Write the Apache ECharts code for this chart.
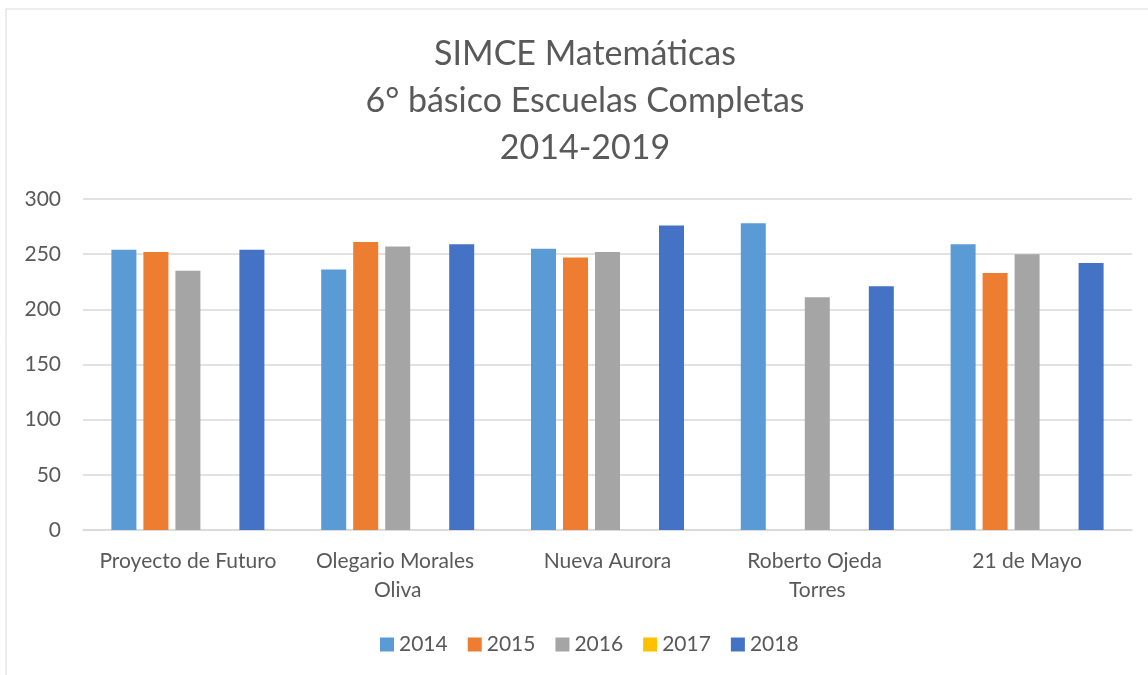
<!DOCTYPE html>
<html>
<head>
<meta charset="utf-8">
<script src="https://cdn.jsdelivr.net/npm/echarts@6/dist/echarts.min.js"></script>
<style>
  html, body { margin: 0; padding: 0; background: #ffffff; }
  #chart { width: 1148px; height: 675px; }
</style>
</head>
<body>
<div id="chart"></div>
<script>
// escuelas y años
const escuelas = ['Proyecto de Futuro', 'Olegario Morales Oliva', 'Nueva Aurora', 'Roberto Ojeda Torres', '21 de Mayo']
const anios = ['2014', '2015', '2016', '2017', '2018']
const colores = ['#5B9BD5', '#ED7D31', '#A5A5A5', '#FFC000', '#4472C4']
// puntajes por año (null = sin dato)
const p2014 = [254, 236, 255, 278, 259]
const p2015 = [252, 261, 247, null, 233]
const p2016 = [235, 257, 252, 211, 250]
const p2017 = [null, null, null, null, null]
const p2018 = [254, 259, 276, 221, 242]
const puntajes = [p2014, p2015, p2016, p2017, p2018]

const fuente = 'Lato, "Open Sans", sans-serif'
const gris = '#595959'

const chart = echarts.init(document.getElementById('chart'))
chart.setOption({
  backgroundColor: '#ffffff',
  animation: false,
  title: {
    text: 'SIMCE Matemáticas\n6° básico Escuelas Completas\n2014-2019',
    left: 580,
    textAlign: 'center',
    top: 26,
    textStyle: {
      fontFamily: fuente,
      fontSize: 34,
      fontWeight: 'normal',
      color: gris,
      lineHeight: 47
    }
  },
  graphic: [{
    type: 'rect',
    shape: { x: 6, y: 9, width: 1200, height: 700 },
    style: { fill: 'none', stroke: '#d9d9d9', lineWidth: 1 },
    silent: true
  }],
  legend: {
    bottom: 15,
    left: 375,
    itemWidth: 14,
    itemHeight: 14,
    itemGap: 20,
    icon: 'rect',
    textStyle: { fontFamily: fuente, fontSize: 21, color: gris },
    data: anios
  },
  grid: {
    left: 83,
    right: 16,
    top: 199,
    bottom: 145,
    containLabel: false
  },
  xAxis: {
    type: 'category',
    data: escuelas,
    axisLine: { lineStyle: { color: '#d9d9d9', width: 1.5 } },
    axisTick: { show: false },
    axisLabel: {
      fontFamily: fuente,
      fontSize: 21,
      color: gris,
      margin: 17,
      lineHeight: 29,
      width: 188,
      overflow: 'break',
      interval: 0
    }
  },
  yAxis: {
    type: 'value',
    min: 0,
    max: 300,
    interval: 50,
    axisLine: { show: false },
    axisTick: { show: false },
    axisLabel: { fontFamily: fuente, fontSize: 21, color: gris, margin: 22 },
    splitLine: { lineStyle: { color: '#d9d9d9', width: 1.5 } }
  },
  series: anios.map((anio, i) => ({
    name: anio,
    type: 'bar',
    data: puntajes[i],
    barWidth: 25,
    barGap: '28%',
    itemStyle: { color: colores[i] }
  }))
})
</script>
</body>
</html>
